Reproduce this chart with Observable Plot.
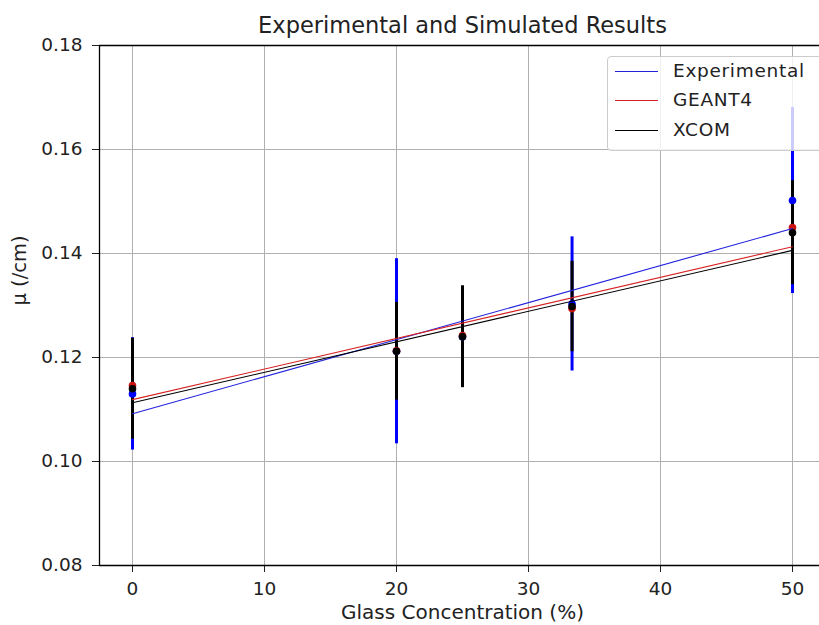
<!DOCTYPE html>
<html>
<head>
<meta charset="utf-8">
<script src="https://cdn.jsdelivr.net/npm/d3@7"></script>
<script src="https://cdn.jsdelivr.net/npm/@observablehq/plot@0.6"></script>
<style>
  html, body { margin: 0; padding: 0; background: #fff; overflow: hidden; }
  #wrap { position: relative; width: 819px; height: 625px; overflow: hidden; font-family: "DejaVu Sans", sans-serif; }
  #wrap svg { position: absolute; left: 0; top: 0; max-width: none !important; width: 826px; height: 625px; }
  #legend { position: absolute; left: 607px; top: 56px; width: 230px; height: 95px;
    border: 1px solid #cccccc; border-radius: 4px; background: rgba(255,255,255,0.8); box-sizing: border-box; }
  .item { position: absolute; left: 0; height: 20px; }
  .item .sw { position: absolute; left: 7px; width: 43px; height: 0; border-top: 1.3px solid; top: 10px; }
  .item .lb { position: absolute; left: 65px; top: 0; font-size: 18.5px; letter-spacing: 0.7px; line-height: 20px; color: #222; white-space: nowrap; }
</style>
</head>
<body>
<div id="wrap"></div>
<script>
// ---- data ----
const conc    = [0, 20, 25, 33.3, 50];
const expMu   = [0.1130, 0.1212, 0.1240, 0.1303, 0.1502];
const expErr  = [0.0108, 0.0178, 0.0090, 0.0129, 0.0179];
const g4Mu    = [0.1146, 0.1213, 0.1242, 0.1294, 0.1450];
const xcomMu  = [0.1140, 0.1212, 0.1240, 0.1298, 0.1440];
const xcomErr = [0.0097, 0.0094, 0.0098, 0.0087, 0.0100];
const fitX    = [0, 50];
const expFit  = [0.1092, 0.1448];
const g4Fit   = [0.1119, 0.1413];
const xcomFit = [0.1113, 0.1406];
const xTicks  = [0, 10, 20, 30, 40, 50];
const yTicks  = [0.08, 0.10, 0.12, 0.14, 0.16, 0.18];
const seriesNames  = ["Experimental", "GEANT4", "XCOM"];
const seriesColors = ["#2222dd", "#d62222", "black"];

const pts = (mu, err) => conc.map((c, i) => ({x: c, y: mu[i], lo: err ? mu[i] - err[i] : null, hi: err ? mu[i] + err[i] : null}));
const expPts = pts(expMu, expErr);
const g4Pts = pts(g4Mu, null);
const xcomPts = pts(xcomMu, xcomErr);
const fit = (v) => fitX.map((x, i) => ({x, y: v[i]}));

const font = "DejaVu Sans";
const chart = Plot.plot({
  width: 826,
  height: 625,
  marginLeft: 99,
  marginRight: 1,
  marginTop: 45,
  marginBottom: 60,
  style: {fontFamily: font, fontSize: "18.5px", color: "#222", background: "white", maxWidth: "none"},
  x: {domain: [-2.5, 52.5], ticks: xTicks},
  y: {domain: [0.08, 0.18], ticks: yTicks},
  marks: [
    Plot.gridX(xTicks, {stroke: "#b0b0b0", strokeOpacity: 1, strokeWidth: 1}),
    Plot.gridY(yTicks, {stroke: "#b0b0b0", strokeOpacity: 1, strokeWidth: 1}),
    Plot.axisX({ticks: xTicks, tickSize: 7, tickPadding: 9, fontSize: 18.5, label: null}),
    Plot.axisY({ticks: yTicks, tickSize: 7, tickPadding: 10, fontSize: 18.5, label: null, tickFormat: d3.format(".2f")}),
    Plot.ruleX([-2.5, 52.5], {stroke: "black", strokeWidth: 1.3}),
    Plot.ruleY([0.08, 0.18], {stroke: "black", strokeWidth: 1.3}),
    // error bars
    Plot.ruleX(expPts, {x: "x", y1: "lo", y2: "hi", stroke: "blue", strokeWidth: 3}),
    Plot.ruleX(xcomPts, {x: "x", y1: "lo", y2: "hi", stroke: "black", strokeWidth: 3}),
    // points
    Plot.dot(expPts, {x: "x", y: "y", r: 3.8, fill: "blue"}),
    Plot.dot(g4Pts, {x: "x", y: "y", r: 3.8, fill: "#cc1111"}),
    Plot.dot(xcomPts, {x: "x", y: "y", r: 3.8, fill: "black"}),
    // fit lines
    Plot.line(fit(expFit), {x: "x", y: "y", stroke: seriesColors[0], strokeWidth: 1.1}),
    Plot.line(fit(g4Fit), {x: "x", y: "y", stroke: seriesColors[1], strokeWidth: 1.1}),
    Plot.line(fit(xcomFit), {x: "x", y: "y", stroke: seriesColors[2], strokeWidth: 1.1}),
    // titles
    Plot.text(["Experimental and Simulated Results"], {frameAnchor: "top", lineAnchor: "middle", dy: -20, fontSize: 22.5, fill: "#222"}),
    Plot.text(["Glass Concentration (%)"], {frameAnchor: "bottom", lineAnchor: "middle", dy: 47, fontSize: 20, fill: "#222"}),
    Plot.text(["μ (/cm)"], {frameAnchor: "left", lineAnchor: "middle", dx: -80, rotate: -90, fontSize: 19.5, fill: "#222"})
  ]
});
const wrap = document.getElementById("wrap");
wrap.appendChild(chart);

const leg = document.createElement("div");
leg.id = "legend";
seriesNames.forEach((name, i) => {
  const it = document.createElement("div");
  it.className = "item";
  it.style.top = (3.5 + i * 29.5) + "px";
  const sw = document.createElement("div");
  sw.className = "sw";
  sw.style.borderColor = seriesColors[i];
  const lb = document.createElement("div");
  lb.className = "lb";
  lb.textContent = name;
  it.appendChild(sw); it.appendChild(lb);
  leg.appendChild(it);
});
wrap.appendChild(leg);
</script>
</body>
</html>
